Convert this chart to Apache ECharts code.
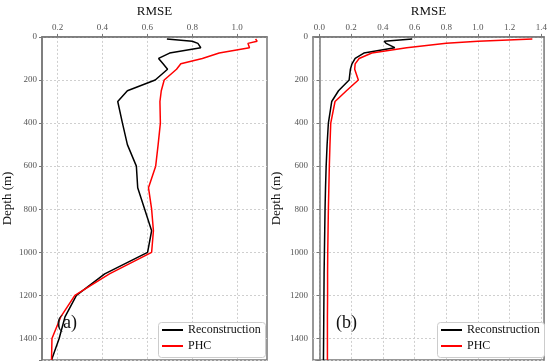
<!DOCTYPE html>
<html>
<head>
<meta charset="utf-8">
<script src="https://cdn.jsdelivr.net/npm/echarts@6/dist/echarts.min.js"></script>
<style>html,body{margin:0;padding:0;background:#fff}#c{width:550px;height:363px}</style>
</head>
<body>
<div id="c"></div>
<script>
const depths = [10, 20, 30, 50, 75, 100, 125, 150, 200, 250, 300, 400, 500, 600, 700, 800, 900, 1000, 1100, 1200, 1300, 1400, 1500];
const reconA = [0.687, 0.80, 0.825, 0.838, 0.699, 0.650, 0.670, 0.690, 0.635, 0.511, 0.468, 0.489, 0.511, 0.551, 0.557, 0.588, 0.619, 0.601, 0.410, 0.284, 0.233, 0.207, 0.173];
const phcA   = [1.082, 1.089, 1.048, 1.055, 0.920, 0.845, 0.749, 0.730, 0.675, 0.662, 0.656, 0.658, 0.648, 0.637, 0.605, 0.619, 0.627, 0.619, 0.431, 0.277, 0.214, 0.175, 0.173];
const reconB = [0.585, 0.409, 0.420, 0.475, 0.280, 0.225, 0.205, 0.195, 0.187, 0.120, 0.077, 0.056, 0.048, 0.042, 0.038, 0.035, 0.033, 0.031, 0.029, 0.028, 0.027, 0.026, 0.025];
const phcB   = [1.343, 1.000, 0.800, 0.550, 0.330, 0.250, 0.225, 0.222, 0.245, 0.170, 0.098, 0.071, 0.066, 0.062, 0.059, 0.056, 0.054, 0.052, 0.051, 0.051, 0.050, 0.050, 0.050];
const ticksA = [0.2, 0.4, 0.6, 0.8, 1.0];
const ticksB = [0.0, 0.2, 0.4, 0.6, 0.8, 1.0, 1.2, 1.4];
const seriesNames = ['Reconstruction', 'PHC'];

const serif = "'Liberation Serif', 'DejaVu Serif', serif";
const axisGrey = '#777';
function pairs(vals) { return vals.map((v, i) => [v, depths[i]]); }

function xAxis(idx, min, max, ticks) {
  return {
    type: 'value', gridIndex: idx, position: 'top', min: min, max: max,
    name: 'RMSE', nameLocation: 'middle', nameGap: 17,
    nameTextStyle: { fontFamily: serif, fontSize: 13, color: '#111' },
    axisLine: { show: true, lineStyle: { color: axisGrey, width: 1.5 } },
    axisTick: { show: true, length: 3, customValues: ticks, lineStyle: { color: axisGrey } },
    axisLabel: { customValues: ticks, fontFamily: serif, fontSize: 9, color: '#555', margin: 5,
      formatter: v => v.toFixed(1) },
    splitLine: { show: true, lineStyle: { color: '#cfcfcf', type: [2, 2], width: 1 } }
  };
}
function yAxis(idx, gap) {
  return {
    type: 'value', gridIndex: idx, inverse: true, min: 0, max: 1500, interval: 200,
    name: 'Depth (m)', nameLocation: 'middle', nameGap: gap,
    nameTextStyle: { fontFamily: serif, fontSize: 13, color: '#111' },
    axisLine: { show: true, lineStyle: { color: axisGrey, width: 1.5 } },
    axisTick: { show: true, length: 3, lineStyle: { color: axisGrey } },
    axisLabel: { fontFamily: serif, fontSize: 9, color: '#555', margin: 5,
      formatter: v => (v > 1400 ? '' : String(v)) },
    splitLine: { show: true, lineStyle: { color: '#cfcfcf', type: [2, 2], width: 1 } }
  };
}
function lineSeries(name, idx, vals, color) {
  return { name: name, type: 'line', xAxisIndex: idx, yAxisIndex: idx, data: pairs(vals),
    showSymbol: false, symbol: 'none', lineStyle: { color: color, width: 1.5 }, itemStyle: { color: color },
    animation: false, z: 3 };
}
function legendItem(left, top, name) {
  return { left: left, top: top, orient: 'vertical', data: [name],
    icon: 'rect', itemWidth: 21, itemHeight: 2, itemGap: 8, padding: 0,
    textStyle: { fontFamily: serif, fontSize: 12, color: '#111' }, selectedMode: false, z: 20 };
}
function legendBox(left) {
  return { type: 'rect', left: left, top: 322, z: 15,
    shape: { width: 107, height: 35, r: 3 },
    style: { fill: '#fff', stroke: '#ccc', lineWidth: 1 } };
}

const chart = echarts.init(document.getElementById('c'), null, { renderer: 'canvas' });
chart.setOption({
  animation: false,
  grid: [
    { left: 36, top: 23, width: 231, height: 337, show: true, borderColor: axisGrey, borderWidth: 1.5 },
    { left: 313, top: 23, width: 234, height: 337, show: true, borderColor: axisGrey, borderWidth: 1.5 }
  ],
  xAxis: [xAxis(0, 0.1306, 1.133, ticksA), xAxis(1, -0.041, 1.417, ticksB)],
  yAxis: [yAxis(0, 28), yAxis(1, 30)],
  legend: [
    legendItem(162, 324, seriesNames[0]), legendItem(162, 340, seriesNames[1]),
    legendItem(441, 324, seriesNames[0]), legendItem(441, 340, seriesNames[1])
  ],
  series: [
    lineSeries(seriesNames[0], 0, reconA, '#000'),
    lineSeries(seriesNames[1], 0, phcA, '#ff0000'),
    lineSeries(seriesNames[0], 1, reconB, '#000'),
    lineSeries(seriesNames[1], 1, phcB, '#ff0000')
  ],
  graphic: [
    legendBox(158), legendBox(437),
    { type: 'text', left: 57, top: 314, z: 20, style: { text: '(a)', font: "18px 'Liberation Serif'", fill: '#111' } },
    { type: 'text', left: 336, top: 314, z: 20, style: { text: '(b)', font: "18px 'Liberation Serif'", fill: '#111' } }
  ]
});
</script>
</body>
</html>
